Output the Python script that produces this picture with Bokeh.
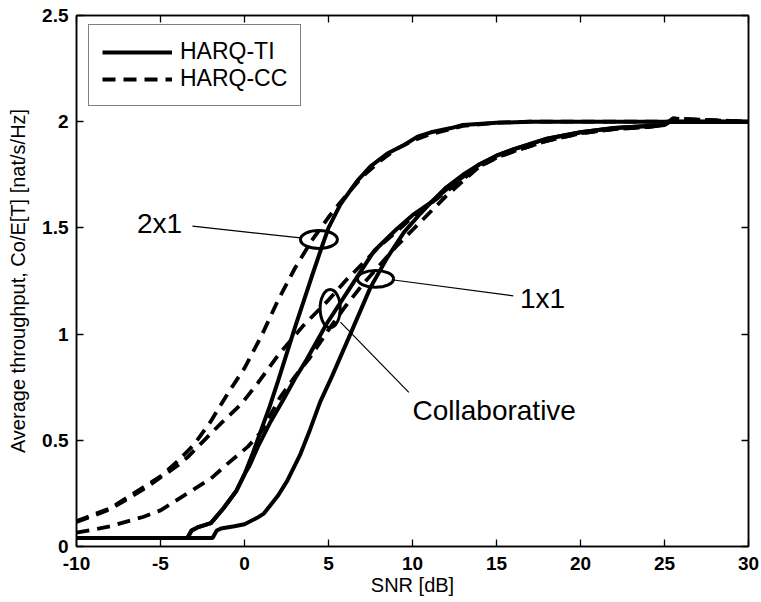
from bokeh.plotting import figure
from bokeh.models import Legend, LegendItem, LinearAxis, FixedTicker, Range1d
from bokeh.embed import file_html
from bokeh.resources import INLINE
from bokeh.core.properties import value

FONT = "Liberation Sans"

# ---------------- data ----------------
x_ticks = [-10, -5, 0, 5, 10, 15, 20, 25, 30]
x_tick_labels = ["-10", "-5", "0", "5", "10", "15", "20", "25", "30"]
y_ticks = [0, 0.5, 1, 1.5, 2, 2.5]
y_tick_labels = ["0", "0.5", "1", "1.5", "2", "2.5"]

# HARQ-TI (solid)
snr_2x1_ti = [-10, -3.4, -3.15, -2.8, -2.0, -1.25, -0.5, 0.0, 0.5, 1.0, 1.5, 2.0, 3.0, 4.0, 4.6,
              5.0, 5.7, 6.7, 7.5, 8.5, 9.5, 10.3, 11.1, 12.3, 13.0, 15.0, 17.0, 30.0]
thr_2x1_ti = [0.04, 0.04, 0.075, 0.09, 0.11, 0.18, 0.26, 0.34, 0.44, 0.55, 0.66, 0.78, 1.03, 1.27, 1.41,
              1.50, 1.61, 1.72, 1.79, 1.85, 1.89, 1.93, 1.95, 1.97, 1.985, 1.995, 2.0, 2.0]

snr_col_ti = [-10, -3.4, -3.15, -2.8, -2.0, -1.25, -0.5, 0.0, 0.3, 0.8, 1.5, 2.3, 3.0, 3.7, 4.9,
              6.3, 7.7, 9.0, 10.0, 11.1, 12.3, 13.0]
thr_col_ti = [0.04, 0.04, 0.075, 0.09, 0.11, 0.18, 0.26, 0.34, 0.38, 0.47, 0.58, 0.69, 0.79, 0.88, 1.05,
              1.22, 1.39, 1.49, 1.56, 1.62, 1.70, 1.74]

snr_1x1_ti = [-10, -1.9, -1.65, -1.4, -0.6, 0.0, 0.75, 1.15, 2.0, 2.55, 3.3, 3.9, 4.5, 5.2, 6.3,
              7.5, 8.5, 9.5, 10.5, 11.1, 12.0, 13.0]
thr_1x1_ti = [0.04, 0.04, 0.075, 0.085, 0.095, 0.105, 0.135, 0.155, 0.24, 0.31, 0.43, 0.55, 0.68, 0.80, 1.0,
              1.22, 1.36, 1.48, 1.57, 1.62, 1.69, 1.75]

snr_tail_ti = [14, 15, 16, 18, 20, 22, 24, 25, 25.3, 30]
thr_tail_ti = [1.80, 1.84, 1.87, 1.92, 1.95, 1.97, 1.98, 1.985, 2.0, 2.0]

# HARQ-CC (dashed)
snr_2x1_cc = [-10, -8, -6, -5, -4, -3, -2, -1, 0, 1, 2, 3, 4, 5, 5.7, 7, 8, 9, 10, 11, 13, 15, 17, 30]
thr_2x1_cc = [0.12, 0.18, 0.28, 0.33, 0.40, 0.48, 0.59, 0.72, 0.84, 0.99, 1.16, 1.31, 1.44, 1.55, 1.62,
              1.74, 1.81, 1.87, 1.91, 1.94, 1.98, 1.995, 2.0, 2.0]

snr_col_cc = [-10, -8, -6, -5, -4, -3.4, -2.4, -1.4, -0.2, 0.8, 2.0, 3.5, 5.0, 6.0, 7.0, 8.0, 9.0,
              10.0, 11.0, 12.0, 13.0]
thr_col_cc = [0.115, 0.175, 0.27, 0.325, 0.38, 0.42, 0.50, 0.58, 0.67, 0.77, 0.90, 1.04, 1.16, 1.25,
              1.33, 1.41, 1.48, 1.55, 1.61, 1.67, 1.73]

snr_1x1_cc = [-10, -8, -6, -5, -3.8, -3.2, -2.0, -1.0, 0.2, 1.0, 2.1, 3.0, 3.9, 5.0, 6.0, 7.0, 8.0,
              9.0, 10.0, 11.0, 12.0, 13.0]
thr_1x1_cc = [0.065, 0.095, 0.14, 0.17, 0.23, 0.26, 0.32, 0.39, 0.47, 0.54, 0.70, 0.80, 0.89, 1.02,
              1.13, 1.23, 1.32, 1.41, 1.49, 1.57, 1.65, 1.72]

snr_tail_cc = [14, 15, 16, 18, 20, 22, 24, 25, 25.5, 27, 30]
thr_tail_cc = [1.79, 1.83, 1.86, 1.91, 1.945, 1.965, 1.975, 1.985, 2.015, 2.01, 2.0]

# annotations
ann_texts = ["2x1", "1x1", "Collaborative"]
ann_text_x = [-6.4, 16.4, 10.0]
ann_text_y = [1.52, 1.168, 0.64]

ell_x = [4.43, 7.8, 5.1]
ell_y = [1.445, 1.26, 1.12]
ell_w = [2.2, 2.15, 1.2]
ell_h = [0.085, 0.08, 0.18]

lead_x0 = [-3.1, 8.77, 5.71]
lead_y0 = [1.508, 1.256, 1.056]
lead_x1 = [3.33, 16.0, 9.78]
lead_y1 = [1.453, 1.18, 0.726]

# ---------------- figure ----------------
p = figure(width=760, height=602, output_backend="svg", toolbar_location=None,
           x_range=Range1d(-10, 30), y_range=Range1d(0, 2.5),
           min_border_left=76, min_border_right=12, min_border_top=15, min_border_bottom=56,
           x_axis_label="SNR [dB]",
           y_axis_label="Average throughput, Co/E[T] [nat/s/Hz]")
p.grid.visible = False
p.background_fill_color = "white"
p.border_fill_color = "white"
p.outline_line_color = "black"
p.outline_line_width = 1.5

for ax in (p.xaxis[0], p.yaxis[0]):
    ax.axis_line_color = "black"
    ax.axis_line_width = 1.5
    ax.major_tick_in = 7
    ax.major_tick_out = 0
    ax.major_tick_line_width = 1.3
    ax.minor_tick_line_color = None
    ax.major_label_text_font = FONT
    ax.major_label_text_font_size = "19px"
    ax.major_label_text_font_style = "bold"
    ax.major_label_text_color = "black"
    ax.axis_label_text_font = FONT
    ax.axis_label_text_font_size = "20px"
    ax.axis_label_text_font_style = "normal"
    ax.axis_label_text_color = "black"

p.xaxis[0].ticker = FixedTicker(ticks=x_ticks)
p.xaxis[0].major_label_overrides = {t: l for t, l in zip(x_ticks, x_tick_labels)}
p.xaxis[0].major_label_standoff = 10
p.xaxis[0].axis_label_standoff = 1
p.yaxis[0].ticker = FixedTicker(ticks=y_ticks)
p.yaxis[0].major_label_overrides = {t: l for t, l in zip(y_ticks, y_tick_labels)}
p.yaxis[0].major_label_standoff = 8
p.yaxis[0].axis_label_standoff = 10

top_ax = LinearAxis(ticker=FixedTicker(ticks=x_ticks), major_label_text_font_size="1px",
                    major_label_text_color=None,
                    major_tick_in=7, major_tick_out=0, major_label_standoff=0,
                    minor_tick_line_color=None, axis_line_width=1.5, major_tick_line_width=1.3)
right_ax = LinearAxis(ticker=FixedTicker(ticks=y_ticks), major_label_text_font_size="1px",
                      major_label_text_color=None,
                      major_tick_in=7, major_tick_out=0, major_label_standoff=0,
                      minor_tick_line_color=None, axis_line_width=1.5, major_tick_line_width=1.3)
p.add_layout(top_ax, "above")
p.add_layout(right_ax, "right")

SOLID_W = 4.0
DASH_W = 3.8
DASH = "13 8"

r_ti = p.line(snr_2x1_ti, thr_2x1_ti, line_color="black", line_width=SOLID_W)
p.line(snr_col_ti + snr_tail_ti, thr_col_ti + thr_tail_ti, line_color="black", line_width=SOLID_W)
p.line(snr_1x1_ti + snr_tail_ti, thr_1x1_ti + thr_tail_ti, line_color="black", line_width=SOLID_W)

r_cc = p.line(snr_2x1_cc, thr_2x1_cc, line_color="black", line_width=DASH_W, line_dash=DASH)
p.line(snr_col_cc + snr_tail_cc, thr_col_cc + thr_tail_cc, line_color="black", line_width=DASH_W, line_dash=DASH)
p.line(snr_1x1_cc + snr_tail_cc, thr_1x1_cc + thr_tail_cc, line_color="black", line_width=DASH_W, line_dash=DASH)

# annotations
p.ellipse(x=ell_x, y=ell_y, width=ell_w, height=ell_h, fill_color=None,
          line_color="black", line_width=3.0)
p.segment(x0=lead_x0, y0=lead_y0, x1=lead_x1, y1=lead_y1, line_color="black", line_width=1.2)
p.text(x=ann_text_x, y=ann_text_y, text=ann_texts, text_font=value(FONT),
       text_font_size="28px", text_baseline="middle", text_align="left", text_color="black")

legend = Legend(items=[LegendItem(label="HARQ-TI", renderers=[r_ti]),
                       LegendItem(label="HARQ-CC", renderers=[r_cc])],
                location=(12, 440))
legend.label_text_font = FONT
legend.label_text_font_size = "23px"
legend.label_text_color = "black"
legend.glyph_width = 70
legend.glyph_height = 20
legend.label_height = 24
legend.label_standoff = 8
legend.padding = 13
legend.spacing = 0
legend.margin = 0
legend.border_line_color = "black"
legend.border_line_width = 1.3
legend.background_fill_color = "white"
legend.background_fill_alpha = 1.0
p.add_layout(legend)

open("out.html", "w").write(file_html(p, INLINE))
